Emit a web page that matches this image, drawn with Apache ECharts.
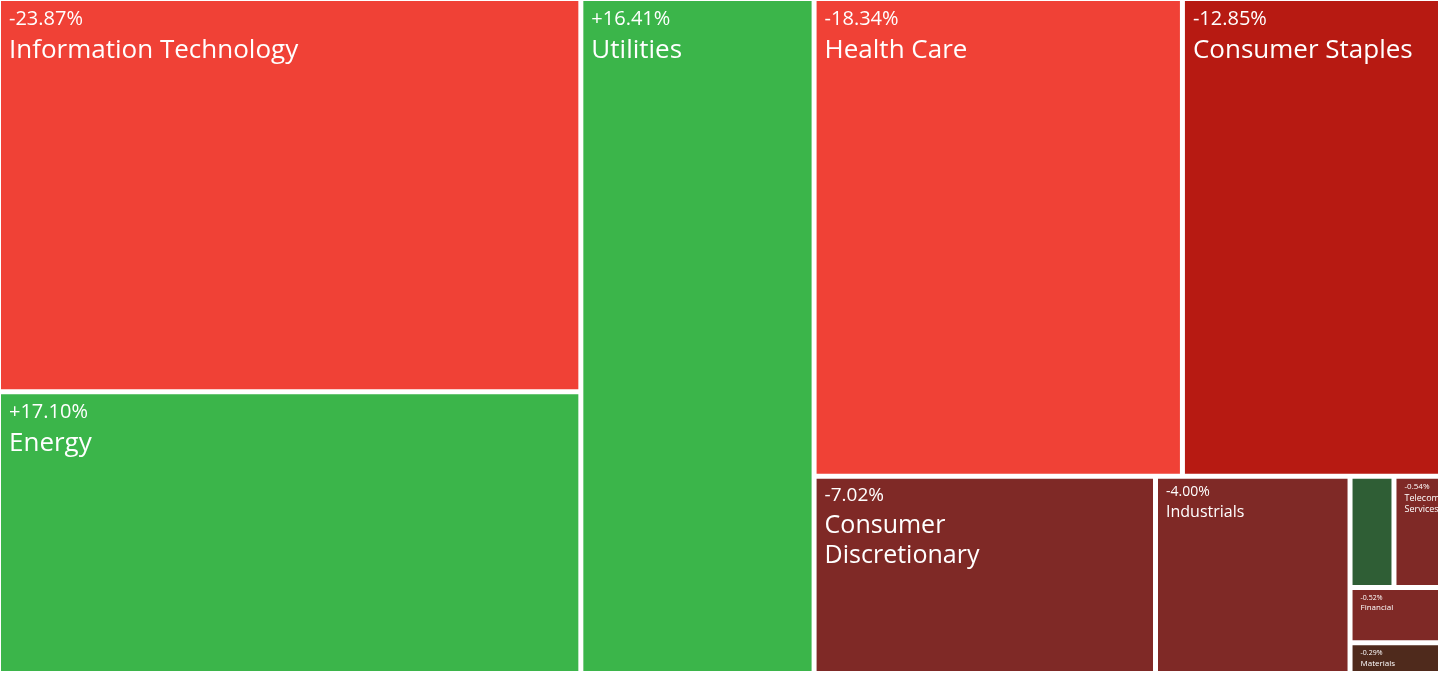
<!DOCTYPE html>
<html>
<head>
<meta charset="utf-8">
<script src="https://cdn.jsdelivr.net/npm/echarts@6/dist/echarts.min.js"></script>
<style>html,body{margin:0;padding:0;background:#f2f2f2;}#chart{width:1439px;height:674px;background:#fff;}</style>
</head>
<body>
<div id="chart"></div>
<script>
// sector daily change (%), tile size = |change|
var sectors = ['Information Technology', 'Energy', 'Utilities', 'Health Care', 'Consumer Staples',
  'Consumer Discretionary', 'Industrials', 'Real Estate', 'Telecommunications Services', 'Financial', 'Materials'];
var changes = [-23.87, 17.10, 16.41, -18.34, -12.85, -7.02, -4.00, 0.51, -0.54, -0.52, -0.29];
var nameSizes = [26, 26, 26, 26, 26, 25, 16, 0, 9, 8, 8];
var valueSizes = [20, 20, 20, 20, 20, 19, 14, 0, 8, 7, 7];
var displayNames = ['Information Technology', 'Energy', 'Utilities', 'Health Care', 'Consumer Staples',
  'Consumer\nDiscretionary', 'Industrials', 'Real Estate', 'Telecommunications\nServices', 'Financial', 'Materials'];

function colorFor(v) {
  if (v >= 5) return '#3bb54a';
  if (v > 0) return '#2f5e35';
  if (v <= -15) return '#f04136';
  if (v <= -10) return '#b71a12';
  if (v <= -0.4) return '#7f2926';
  return '#4f2a1c';
}

function leaf(i) {
  var v = changes[i];
  var txt = (v > 0 ? '+' : '') + v.toFixed(2) + '%';
  var lines = displayNames[i].split('\n').map(function (s) { return '{n|' + s + '}'; }).join('\n');
  return {
    name: sectors[i],
    value: Math.abs(v),
    itemStyle: { color: colorFor(v) },
    label: {
      show: nameSizes[i] > 0,
      formatter: '{v|' + txt + '}\n' + lines,
      rich: {
        v: { fontSize: valueSizes[i], color: '#fff', fontFamily: 'Open Sans', lineHeight: valueSizes[i] * 1.6 },
        n: { fontSize: nameSizes[i], color: '#fff', fontFamily: 'Open Sans', lineHeight: nameSizes[i] * 1.2 }
      }
    }
  };
}

function group(children) {
  return { name: '', children: children };
}

var data = [
  group([leaf(0), leaf(1), leaf(2)]),
  group([leaf(3), leaf(4), leaf(5),
    group([leaf(6), group([group([leaf(7), leaf(8)]), group([leaf(9), leaf(10)])])])
  ])
];

var chart = echarts.init(document.getElementById('chart'));
chart.setOption({
  series: [{
    type: 'treemap',
    left: 1, top: 1, right: 1, bottom: 3,
    roam: false,
    nodeClick: false,
    sort: false,
    squareRatio: 0.5 * (1 + Math.sqrt(5)),
    breadcrumb: { show: false },
    itemStyle: { borderColor: '#fff', borderWidth: 0, gapWidth: 5 },
    label: { position: 'insideTopLeft', padding: [2, 8], overflow: 'none' },
    upperLabel: { show: false },
    data: data
  }]
});
</script>
</body>
</html>
